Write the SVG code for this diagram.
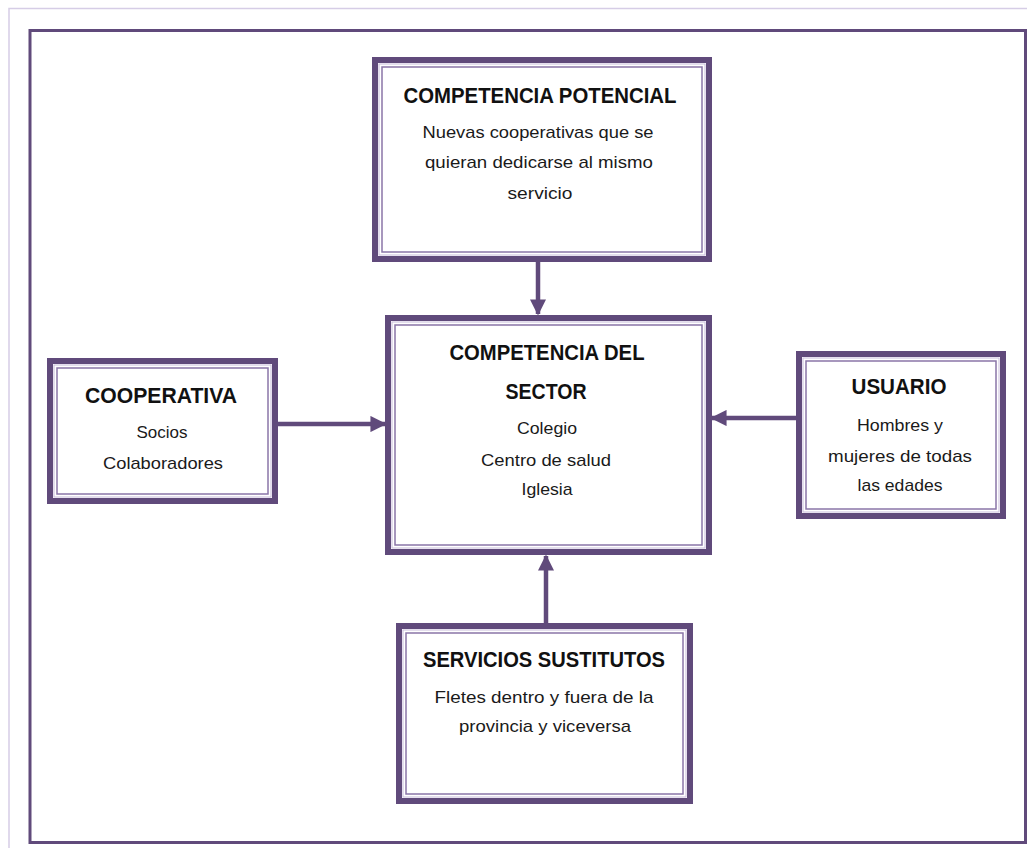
<svg xmlns="http://www.w3.org/2000/svg" width="1027" height="848" viewBox="0 0 1027 848">
  <style>
    .page { fill: #ffffff; stroke: #d6cde6; stroke-width: 1.5; }
    .frame { fill: none; stroke: #604a7b; stroke-width: 3; }
    .box-outer { fill: #ffffff; stroke: #604a7b; stroke-width: 6; }
    .box-halo { fill: none; stroke: #c9bddb; stroke-width: 1; }
    .box-inner { fill: none; stroke: #8a76a8; stroke-width: 1.5; }
    .title { font-family: "Liberation Sans", Arial, sans-serif; font-weight: bold; font-size: 22px; fill: #111111; text-anchor: middle; }
    .body { font-family: "Liberation Sans", Arial, sans-serif; font-size: 17px; fill: #1a1a1a; text-anchor: middle; }
    .link { stroke: #604a7b; stroke-width: 4.5; fill: none; marker-end: url(#head); }
  </style>
  <defs>
    <marker id="head" viewBox="0 0 10 10" refX="9" refY="5" markerWidth="3.6" markerHeight="3.6" orient="auto" markerUnits="strokeWidth">
      <path d="M0,0 L10,5 L0,10 Z" fill="#604a7b"/>
    </marker>
  </defs>

  <rect width="1027" height="848" fill="#ffffff"/>
  <!-- page outline and diagram frame -->
  <rect class="page" x="9" y="8.5" width="1030" height="850"/>
  <rect class="frame" x="30" y="30.5" width="995.5" height="812"/>

  <g id="connectors">
    <line class="link" x1="538" y1="262" x2="538" y2="314"/>
    <line class="link" x1="278" y1="424" x2="385" y2="424"/>
    <line class="link" x1="796" y1="418" x2="712" y2="418"/>
    <line class="link" x1="546" y1="623" x2="546" y2="556"/>
  </g>

  <g id="competencia-potencial">
    <rect class="box-outer" x="375" y="60" width="334" height="199"/>
    <rect class="box-halo" x="379" y="64" width="326" height="191"/>
    <rect class="box-inner" x="382" y="67" width="320" height="185"/>
    <text class="title" x="540" y="103" textLength="273" lengthAdjust="spacingAndGlyphs">COMPETENCIA POTENCIAL</text>
    <text class="body" x="538" y="138" textLength="231" lengthAdjust="spacingAndGlyphs">Nuevas cooperativas que se</text>
    <text class="body" x="539" y="168" textLength="228" lengthAdjust="spacingAndGlyphs">quieran dedicarse al mismo</text>
    <text class="body" x="540" y="199" textLength="65" lengthAdjust="spacingAndGlyphs">servicio</text>
  </g>

  <g id="cooperativa">
    <rect class="box-outer" x="50" y="361" width="225" height="140"/>
    <rect class="box-halo" x="54" y="365" width="217" height="132"/>
    <rect class="box-inner" x="57" y="368" width="211" height="126"/>
    <text class="title" x="161" y="403" textLength="152" lengthAdjust="spacingAndGlyphs">COOPERATIVA</text>
    <text class="body" x="162" y="438" textLength="51" lengthAdjust="spacingAndGlyphs">Socios</text>
    <text class="body" x="163" y="469" textLength="120" lengthAdjust="spacingAndGlyphs">Colaboradores</text>
  </g>

  <g id="competencia-sector">
    <rect class="box-outer" x="388" y="318" width="321" height="234"/>
    <rect class="box-halo" x="392" y="322" width="313" height="226"/>
    <rect class="box-inner" x="395" y="325" width="307" height="220"/>
    <text class="title" x="547" y="360" textLength="195" lengthAdjust="spacingAndGlyphs">COMPETENCIA DEL</text>
    <text class="title" x="546" y="399" textLength="81" lengthAdjust="spacingAndGlyphs">SECTOR</text>
    <text class="body" x="547" y="434" textLength="60" lengthAdjust="spacingAndGlyphs">Colegio</text>
    <text class="body" x="546" y="466" textLength="130" lengthAdjust="spacingAndGlyphs">Centro de salud</text>
    <text class="body" x="547" y="495" textLength="51" lengthAdjust="spacingAndGlyphs">Iglesia</text>
  </g>

  <g id="usuario">
    <rect class="box-outer" x="799" y="354" width="204" height="162"/>
    <rect class="box-halo" x="803" y="358" width="196" height="154"/>
    <rect class="box-inner" x="806" y="361" width="190" height="148"/>
    <text class="title" x="899" y="394" textLength="95" lengthAdjust="spacingAndGlyphs">USUARIO</text>
    <text class="body" x="900" y="431" textLength="86" lengthAdjust="spacingAndGlyphs">Hombres y</text>
    <text class="body" x="900" y="462" textLength="144" lengthAdjust="spacingAndGlyphs">mujeres de todas</text>
    <text class="body" x="900" y="491" textLength="85" lengthAdjust="spacingAndGlyphs">las edades</text>
  </g>

  <g id="servicios-sustitutos">
    <rect class="box-outer" x="399" y="626" width="291" height="175"/>
    <rect class="box-halo" x="403" y="630" width="283" height="167"/>
    <rect class="box-inner" x="406" y="633" width="277" height="161"/>
    <text class="title" x="544" y="667" textLength="242" lengthAdjust="spacingAndGlyphs">SERVICIOS SUSTITUTOS</text>
    <text class="body" x="544" y="703" textLength="219" lengthAdjust="spacingAndGlyphs">Fletes dentro y fuera de la</text>
    <text class="body" x="545" y="732" textLength="172" lengthAdjust="spacingAndGlyphs">provincia y viceversa</text>
  </g>
</svg>
